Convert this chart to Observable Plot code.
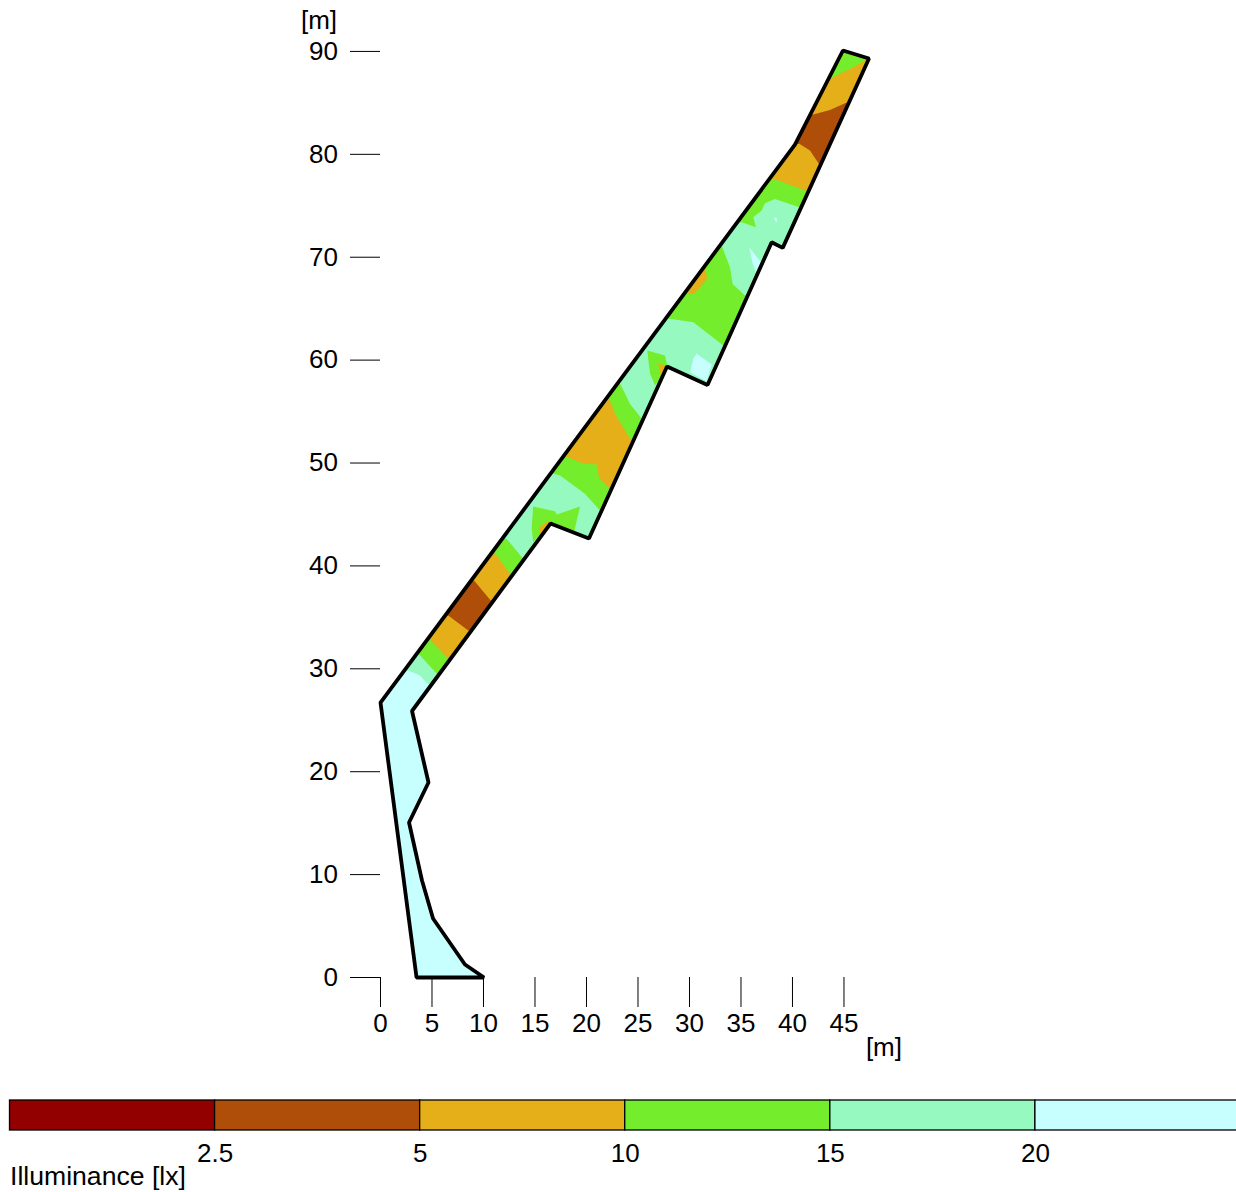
<!DOCTYPE html>
<html>
<head>
<meta charset="utf-8">
<style>
html,body{margin:0;padding:0;background:#fff;overflow:hidden}
svg{display:block}
</style>
<script src="https://cdn.jsdelivr.net/npm/d3@7"></script>
<script src="https://cdn.jsdelivr.net/npm/@observablehq/plot@0.6"></script>
</head>
<body>
<div id="chart"></div>
<script>
const xTicks = [0,5,10,15,20,25,30,35,40,45];
const yTicks = [0,10,20,30,40,50,60,70,80,90];
const bandColors = ["#930000","#AE4E09","#E4AF18","#74EE2C","#96FAC0","#C7FFFF"];
const bandLabels = ["2.5","5","10","15","20"];
const [dark, brown, orange, green, mint, cyan] = bandColors;

// Floor plan outline, metres, clockwise from the upper-left corner
const outline = [[0,26.72],[40.24,80.95],[44.9,90.09],[47.43,89.31],[39.05,70.91],[37.98,71.46],[31.75,57.58],
  [27.82,59.38],[20.24,42.66],[16.5,44.12],[3.06,25.9],[4.66,18.95],[2.77,15.06],[4.03,9.43],[5.1,5.73],[8.2,1.26],[10.05,0],[3.5,0]];

// Contour lines, metres, each from the upper wall to the lower wall, walking up the corridor
const contour01 = [[2.31,29.83],[2.70,29.83],[3.83,29.35],[4.54,28.54],[5.01,28.54]];
const contour02 = [[3.47,31.39],[3.77,31.39],[5.46,29.51],[5.73,29.51]];
const contour03 = [[4.52,32.82],[4.81,32.82],[6.58,30.97],[6.81,30.97]];
const contour04 = [[6.27,35.18],[6.58,35.18],[8.52,33.72],[8.83,33.72]];
const contour05 = [[8.80,38.58],[9.08,38.58],[10.70,36.64],[10.98,36.64]];
const contour06 = [[10.77,41.23],[11.12,41.23],[12.57,39.23],[12.89,39.23]];
const contour07 = [[11.81,42.63],[12.25,42.63],[13.86,40.69],[13.97,40.69]];
const contour08 = [[16.51,48.95],[16.84,48.95],[17.43,48.79],[19.85,47.01],[21.24,45.45],[21.52,45.45]];
const contour09 = [[17.75,50.63],[18.01,50.63],[19.69,49.92],[20.99,49.85],[21.24,48.46],[22.21,47.59],[22.48,47.59]];
const contour10 = [[21.90,56.24],[22.21,56.24],[22.77,54.78],[24.22,52.35],[24.64,52.35]];
const contour11 = [[23.03,57.75],[23.25,57.75],[24.22,55.75],[25.36,54.30],[25.52,54.30]];
const contour12 = [[27.68,64.01],[28.11,64.01],[30.37,63.68],[33.28,61.42],[33.47,61.42]];
const contour13 = [[32.96,71.14],[33.13,71.14],[33.93,69.03],[34.19,67.41],[35.39,66.28],[35.68,66.28]];
const contour14 = [[34.64,73.40],[35.07,73.40],[36.46,72.92],[36.19,73.89],[37.01,74.54],[37.33,75.25],[38.30,75.67],[40.66,74.86],[40.83,74.83]];
const contour15 = [[37.78,77.62],[38.14,77.62],[41.50,76.38]];
const contour16 = [[40.24,80.95],[40.66,81.02],[41.70,80.37],[42.67,78.91]];
const contour17 = [[41.73,83.87],[42.02,83.87],[43.64,84.32],[45.32,85.06],[45.58,85.23]];
const contour18 = [[43.59,87.27],[44.61,87.85],[45.87,88.44],[47.30,89.28]];

// Closed islands inside a band
const islandGreenA = [[14.83,45.77],[16.94,45.32],[17.11,45.0],[19.37,45.77],[18.82,43.37],[16.5,44.12],[14.81,42.30],[14.68,43.76]];
const islandOrangeA = [[15.42,43.76],[16.29,44.34],[17.59,43.83],[16.5,44.12],[15.42,42.66]];
const islandGreenB = [[25.90,60.93],[27.62,60.45],[27.84,59.48],[27.30,58.34],[26.65,57.53],[26.17,58.67]];
const islandOrangeB = [[26.97,59.64],[27.72,59.48],[27.20,58.41]];
const islandCyanA = [[30.70,60.61],[32.16,59.57],[31.67,57.95],[30.05,58.82],[30.37,60.13]];
const islandOrangeC = [[31.31,68.90],[31.50,68.87],[31.73,67.90],[30.47,66.44],[29.47,66.44]];
const islandCyanB = [[35.81,70.97],[36.94,69.51],[36.43,68.54],[36.10,69.51]];
const islandCyanC = [[38.20,73.89],[38.52,73.73],[38.47,73.40],[38.30,73.57]];

// [contour, band colour above it, wall segment of left end, wall segment of right end]
const levels = [
  [contour01,mint,0,9],[contour02,green,0,9],[contour03,orange,0,9],[contour04,brown,0,9],[contour05,orange,0,9],
  [contour06,green,0,9],[contour07,mint,0,9],[contour08,green,0,7],[contour09,orange,0,7],[contour10,green,0,7],
  [contour11,mint,0,7],[contour12,green,0,5],[contour13,mint,0,5],[contour14,green,0,3],[contour15,orange,0,3],
  [contour16,brown,0,3],[contour17,orange,1,3],[contour18,green,1,3]
];
const islands = [[islandGreenA,green],[islandOrangeA,orange],[islandGreenB,green],[islandOrangeB,orange],
  [islandCyanA,cyan],[islandOrangeC,orange],[islandCyanB,cyan],[islandCyanC,cyan]];

const font = "'Liberation Sans', Arial, sans-serif";
const fillPoly = (pts, color) => Plot.line(pts, {x:d=>d[0], y:d=>d[1], fill:color, stroke:"none", curve:"linear-closed"});

const main = Plot.plot({
  width:1236, height:1090,
  marginLeft:380, marginRight:0, marginTop:0, marginBottom:113,
  style:{fontFamily:font, fontSize:"26px", background:"transparent", maxWidth:"none", overflow:"visible"},
  x:{domain:[0,83.11]},
  y:{domain:[0,94.95]},
  marks:[
    fillPoly(outline, cyan),
    ...levels.map(([c,color,a,k]) => fillPoly([...c, ...outline.slice(a+1,k+1).reverse()], color)),
    ...islands.map(([p,color]) => fillPoly(p,color)),
    Plot.line(outline, {x:d=>d[0], y:d=>d[1], fill:"none", stroke:"#000", strokeWidth:3.8, strokeLinejoin:"miter", curve:"linear-closed"}),
    Plot.axisX({ticks:xTicks, tickSize:30, tickPadding:6, label:null, fontSize:26, fontFamily:font}),
    Plot.axisY({ticks:yTicks, tickSize:30, tickPadding:12.5, label:null, fontSize:26, fontFamily:font}),
    Plot.text(["[m]"], {x:48.88, y:-6.8, text:d=>d, fontSize:26, fill:"#000"}),
    Plot.text(["[m]"], {x:-5.97, y:93.0, text:d=>d, fontSize:26, fill:"#000"})
  ]
});

const legend = Plot.plot({
  width:1236, height:102,
  marginLeft:9.5, marginRight:0, marginTop:10, marginBottom:62,
  style:{fontFamily:font, fontSize:"26px", background:"transparent", maxWidth:"none", overflow:"visible"},
  x:{domain:[0,bandColors.length], range:[9.5,1240]},
  y:{domain:[0,1], axis:null},
  marks:[
    Plot.rect(bandColors, {x1:(d,i)=>i, x2:(d,i)=>i+1, y1:0, y2:1, fill:d=>d, stroke:"#000", strokeWidth:1.3}),
    Plot.axisX({ticks:bandLabels.map((d,i)=>i+1), tickFormat:d=>bandLabels[d-1], tickSize:0, tickPadding:13, label:null, fontSize:26, fontFamily:font}),
    Plot.text(["Illuminance [lx]"], {x:0, y:-1.53, text:d=>d, textAnchor:"start", fontSize:26.6, fill:"#000"})
  ]
});

const root = document.getElementById("chart");
root.append(main, legend);
</script>
</body>
</html>
